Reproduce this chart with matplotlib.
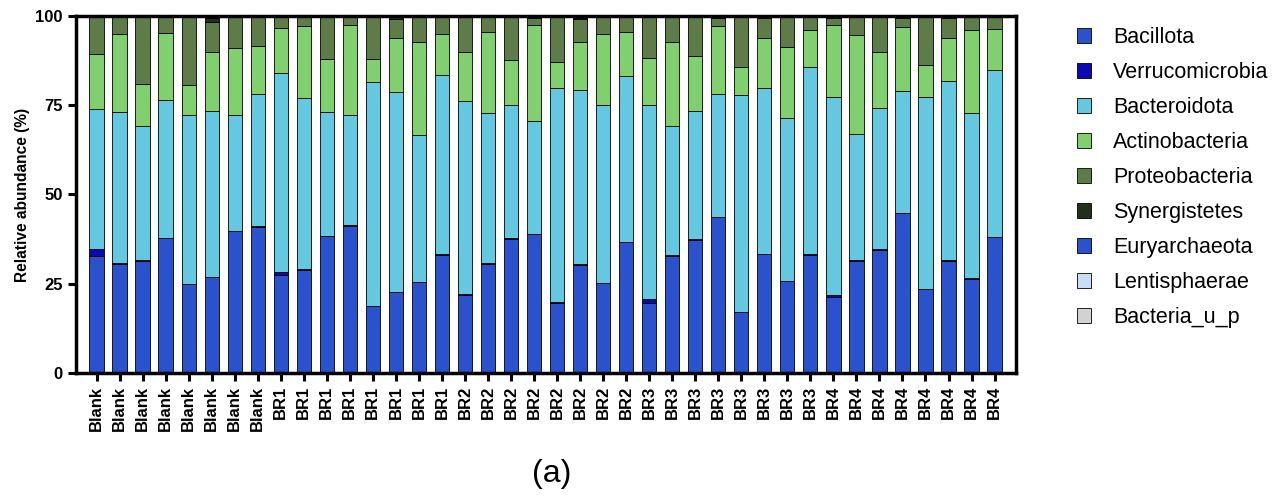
import matplotlib.pyplot as plt
import numpy as np

plt.rcParams["font.family"] = ["Liberation Sans", "DejaVu Sans"]

# muestras
muestras = ["Blank"] * 8 + ["BR1"] * 8 + ["BR2"] * 8 + ["BR3"] * 8 + ["BR4"] * 8

# abundancia relativa (%) por filo, una lista por serie
bacillota = [32.8, 30.5, 31.5, 37.8, 24.9, 26.9, 39.8, 41.0,
             27.5, 28.9, 38.3, 41.3, 18.8, 22.6, 25.4, 33.0,
             21.8, 30.6, 37.4, 38.9, 19.7, 30.3, 25.1, 36.6,
             19.7, 32.8, 37.2, 43.7, 17.0, 33.2, 25.7, 33.1,
             21.2, 31.5, 34.5, 44.7, 23.4, 31.3, 26.4, 38.0]
verrucomicrobia = [1.8, 0.2, 0.2, 0.1, 0.0, 0.1, 0.0, 0.2,
                   0.7, 0.3, 0.1, 0.2, 0.0, 0.2, 0.1, 0.2,
                   0.4, 0.1, 0.3, 0.1, 0.1, 0.1, 0.2, 0.2,
                   1.1, 0.2, 0.2, 0.0, 0.0, 0.2, 0.1, 0.3,
                   0.7, 0.2, 0.2, 0.0, 0.0, 0.3, 0.2, 0.1]
bacteroidota = [39.4, 42.5, 37.4, 38.6, 47.3, 46.5, 32.4, 37.0,
                55.9, 47.7, 34.6, 30.7, 62.6, 55.8, 41.3, 50.4,
                54.0, 42.0, 37.3, 31.6, 59.9, 49.0, 49.7, 46.3,
                54.2, 36.1, 36.1, 34.5, 60.8, 46.5, 45.5, 52.2,
                55.5, 35.3, 39.5, 34.2, 53.8, 50.1, 46.1, 46.9]
actinobacteria = [15.3, 21.8, 11.8, 18.8, 8.4, 16.5, 18.7, 13.3,
                  12.6, 20.3, 15.0, 25.3, 6.6, 15.1, 25.9, 11.4,
                  13.6, 22.7, 12.6, 26.8, 7.4, 13.4, 19.9, 12.3,
                  13.3, 23.7, 15.3, 19.0, 7.8, 13.8, 19.9, 10.4,
                  20.1, 27.7, 15.6, 18.1, 9.1, 12.0, 23.3, 11.4]
proteobacteria = [10.7, 5.0, 19.1, 4.7, 19.4, 8.2, 9.1, 8.5,
                  3.3, 2.8, 12.0, 2.3, 12.0, 5.5, 7.3, 5.0,
                  10.2, 4.6, 12.4, 2.1, 12.9, 6.4, 5.1, 4.6,
                  11.7, 7.2, 11.2, 2.3, 14.4, 5.6, 8.8, 4.0,
                  2.0, 5.3, 10.2, 2.5, 13.7, 5.8, 4.0, 3.6]
synergistetes = [0.0, 0.0, 0.0, 0.0, 0.0, 1.1, 0.0, 0.0,
                 0.0, 0.0, 0.0, 0.2, 0.0, 0.8, 0.0, 0.0,
                 0.0, 0.0, 0.0, 0.5, 0.0, 0.3, 0.0, 0.0,
                 0.0, 0.0, 0.0, 0.5, 0.0, 0.7, 0.0, 0.0,
                 0.5, 0.0, 0.0, 0.5, 0.0, 0.5, 0.0, 0.0]
euryarchaeota = [0.0, 0.0, 0.0, 0.0, 0.0, 0.7, 0.0, 0.0,
                 0.0, 0.0, 0.0, 0.0, 0.0, 0.0, 0.0, 0.0,
                 0.0, 0.0, 0.0, 0.0, 0.0, 0.5, 0.0, 0.0,
                 0.0, 0.0, 0.0, 0.0, 0.0, 0.0, 0.0, 0.0,
                 0.0, 0.0, 0.0, 0.0, 0.0, 0.0, 0.0, 0.0]
lentisphaerae = [0.0] * 40
bacteria_u_p = [0.0] * 40

filos = ["Bacillota", "Verrucomicrobia", "Bacteroidota", "Actinobacteria",
         "Proteobacteria", "Synergistetes", "Euryarchaeota", "Lentisphaerae",
         "Bacteria_u_p"]
series = [bacillota, verrucomicrobia, bacteroidota, actinobacteria,
          proteobacteria, synergistetes, euryarchaeota, lentisphaerae,
          bacteria_u_p]
colores = ["#2a52cc", "#0a0ab0", "#63c8e0", "#80d070", "#5e7c48",
           "#22301a", "#2a52cc", "#c8ddf6", "#d2d2d2"]

fig = plt.figure(figsize=(12.85, 4.99), dpi=100)
ax = fig.add_axes([0.059, 0.2525, 0.732, 0.7155])

x = np.arange(len(muestras))
base = np.zeros(len(muestras))
for nombre, valores, color in zip(filos, series, colores):
    valores = np.array(valores)
    ax.bar(x, valores, bottom=base, width=0.62, color=color,
           edgecolor="black", linewidth=0.6, label=nombre)
    base += valores

ax.set_xlim(-0.9, len(muestras) - 0.05)
ax.set_ylim(0, 100)
ax.set_yticks([0, 25, 50, 75, 100])
ax.set_yticklabels(["0", "25", "50", "75", "100"], fontsize=12, fontweight="bold")
ax.set_xticks(x)
ax.set_xticklabels(muestras, rotation=90, fontsize=12, fontweight="bold")
ax.set_ylabel("Relative abundance (%)", fontsize=11.2, fontweight="bold")
for lado in ax.spines.values():
    lado.set_linewidth(2.5)
ax.tick_params(axis="both", width=2.2, length=6)

# leyenda a la derecha, en coordenadas de la figura
fig.legend(loc="upper left", bbox_to_anchor=(0.838, 0.946), frameon=False,
           fontsize=15.5, handlelength=0.65, handleheight=0.65,
           labelspacing=0.65, handletextpad=1.02, borderpad=0,
           borderaxespad=0)

fig.text(0.429, 0.035, "(a)", fontsize=23, ha="center")

plt.savefig("out.png", dpi=100)
